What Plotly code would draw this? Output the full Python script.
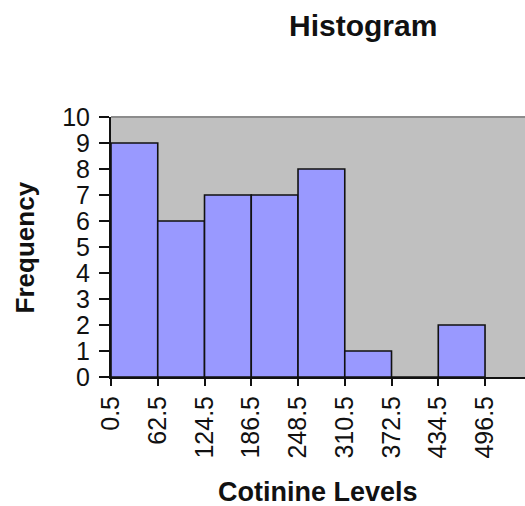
import plotly.graph_objects as go

bin_edges = [0.5, 62.5, 124.5, 186.5, 248.5, 310.5, 372.5, 434.5, 496.5]
frequencies = [9, 6, 7, 7, 8, 1, 0, 2]
tick_labels = ["0.5", "62.5", "124.5", "186.5", "248.5", "310.5", "372.5", "434.5", "496.5"]
y_ticks = list(range(0, 11))

centers = [(bin_edges[i] + bin_edges[i + 1]) / 2 for i in range(len(frequencies))]
widths = [bin_edges[i + 1] - bin_edges[i] for i in range(len(frequencies))]

FONT = "Liberation Sans, Arial, sans-serif"

fig = go.Figure(go.Bar(
    x=centers, y=frequencies, width=widths,
    marker=dict(color="#9999FF", line=dict(color="#111111", width=1.6)),
))

W, H = 525, 506
L, T, B = 110.6, 116.7, 129.3

fig.update_layout(
    width=W, height=H,
    margin=dict(l=L, r=0, t=T, b=B, pad=0),
    paper_bgcolor="white", plot_bgcolor="#C0C0C0",
    showlegend=False,
    font=dict(family=FONT, color="#111111"),
    xaxis=dict(
        range=[0.5, 549.5], tickmode="array", tickvals=bin_edges, ticktext=tick_labels,
        tickangle=-90, ticks="outside", ticklen=7, tickwidth=1.5, tickcolor="#111111",
        showline=True, linecolor="#111111", linewidth=2, showgrid=False, zeroline=False,
        tickfont=dict(size=25, family=FONT, color="#111111"),
    ),
    yaxis=dict(
        range=[0, 10], tickmode="array", tickvals=y_ticks,
        ticks="outside", ticklen=10, tickwidth=1.5, tickcolor="#111111",
        showline=True, linecolor="#111111", linewidth=2, showgrid=False, zeroline=False,
        tickfont=dict(size=25, family=FONT, color="#111111"), ticklabelstandoff=4,
    ),
    shapes=[dict(type="line", xref="paper", yref="paper", x0=0, x1=1, y0=1, y1=1,
                 line=dict(color="#8C8C8C", width=2))],
    annotations=[
        dict(text="<b>Histogram</b>", xref="paper", yref="paper", x=(363 - L) / (W - L), y=1,
             xanchor="center", yanchor="middle", yshift=T - 25, showarrow=False,
             font=dict(size=30, family=FONT, color="#111111")),
        dict(text="<b>Cotinine Levels</b>", xref="paper", yref="paper", x=0.5, y=0,
             xanchor="center", yanchor="middle", yshift=-115, showarrow=False,
             font=dict(size=27, family=FONT, color="#111111")),
        dict(text="<b>Frequency</b>", xref="paper", yref="paper", x=0, y=0.5,
             xanchor="center", yanchor="middle", xshift=25 - L, textangle=-90, showarrow=False,
             font=dict(size=26, family=FONT, color="#111111")),
    ],
)

fig.write_html("out.html", config={"displayModeBar": False},
               post_script="document.body.style.margin='0';document.body.style.overflow='hidden';")
